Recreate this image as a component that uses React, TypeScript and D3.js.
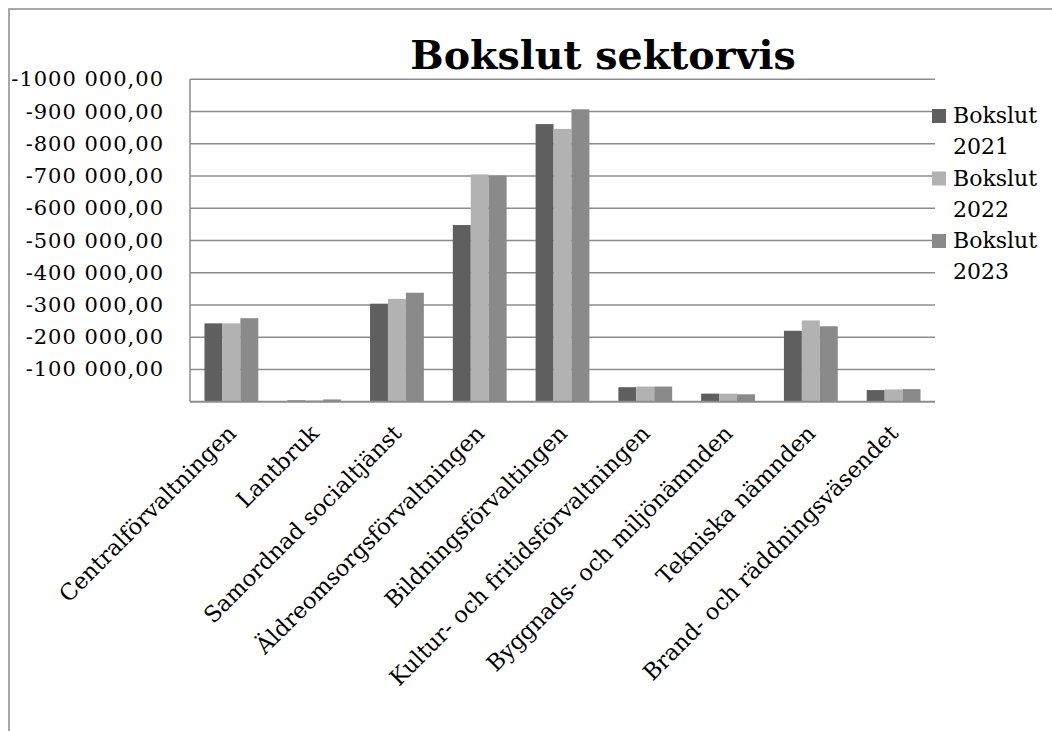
import React, { useRef, useEffect } from 'react';
import * as d3 from 'd3';

const categories = [
  'Centralförvaltningen',
  'Lantbruk',
  'Samordnad socialtjänst',
  'Äldreomsorgsförvaltningen',
  'Bildningsförvaltingen',
  'Kultur- och fritidsförvaltningen',
  'Byggnads- och miljönämnden',
  'Tekniska nämnden',
  'Brand- och räddningsväsendet',
];

const seriesNames = ['Bokslut 2021', 'Bokslut 2022', 'Bokslut 2023'];
const bokslut2021 = [-243000, -4000, -304000, -548000, -861000, -45000, -25000, -220000, -36000];
const bokslut2022 = [-243000, -4000, -319000, -705000, -846000, -47000, -25000, -252000, -38000];
const bokslut2023 = [-259000, -7000, -338000, -701000, -907000, -47000, -23000, -234000, -39000];

const tickValues = [-100000, -200000, -300000, -400000, -500000, -600000, -700000, -800000, -900000, -1000000];
const tickLabels = ['-100 000,00', '-200 000,00', '-300 000,00', '-400 000,00', '-500 000,00',
  '-600 000,00', '-700 000,00', '-800 000,00', '-900 000,00', '-1000 000,00'];

const colors = ['#5f5f5f', '#b2b2b2', '#8a8a8a'];
const font = '"DejaVu Serif", serif';

function App() {
  const ref = useRef<SVGSVGElement>(null);
  const width = 1052;
  const height = 731;
  const margin = { top: 79, right: 117, bottom: 330, left: 190 };

  useEffect(() => {
    const svg = d3.select(ref.current);
    svg.selectAll('*').remove();

    // outer frame (only top/left visible)
    svg.append('rect')
      .attr('x', 9).attr('y', 9).attr('width', 1100).attr('height', 800)
      .attr('fill', 'white').attr('stroke', '#8c8c8c').attr('stroke-width', 1.5);

    const series = [bokslut2021, bokslut2022, bokslut2023];

    const x = d3.scaleBand<string>()
      .domain(categories)
      .range([margin.left, width - margin.right])
      .paddingInner(0.35)
      .paddingOuter(0.175);

    const x1 = d3.scaleBand<number>()
      .domain([0, 1, 2])
      .range([0, x.bandwidth()]);

    const y = d3.scaleLinear()
      .domain([0, -1000000])
      .range([height - margin.bottom + 0.7, margin.top + 0.3]);

    // gridlines
    svg.append('g')
      .selectAll('line')
      .data(tickValues)
      .join('line')
      .attr('x1', margin.left).attr('x2', width - margin.right)
      .attr('y1', d => y(d)).attr('y2', d => y(d))
      .attr('stroke', '#8c8c8c').attr('stroke-width', 1.5);

    // y tick labels
    svg.append('g')
      .selectAll('text')
      .data(tickValues)
      .join('text')
      .attr('x', 164)
      .attr('y', d => y(d) + 7)
      .attr('text-anchor', 'end')
      .style('font-family', font)
      .style('font-size', '21px')
      .style('letter-spacing', '1px')
      .attr('fill', '#000')
      .text((d, i) => tickLabels[i]);

    // bars
    const groups = svg.append('g')
      .selectAll('g')
      .data(categories)
      .join('g')
      .attr('transform', d => `translate(${x(d)},0)`);

    groups.selectAll('rect')
      .data((d, i) => series.map((s, k) => ({ k, v: s[i] })))
      .join('rect')
      .attr('x', d => x1(d.k)!)
      .attr('width', x1.bandwidth())
      .attr('y', d => y(d.v))
      .attr('height', d => y(0) - y(d.v))
      .attr('fill', d => colors[d.k]);

    // axes lines
    svg.append('line')
      .attr('x1', margin.left).attr('x2', margin.left)
      .attr('y1', y(-1000000)).attr('y2', y(0))
      .attr('stroke', '#8c8c8c').attr('stroke-width', 1.5);
    svg.append('line')
      .attr('x1', margin.left).attr('x2', width - margin.right)
      .attr('y1', y(0)).attr('y2', y(0))
      .attr('stroke', '#8c8c8c').attr('stroke-width', 2);

    // category labels
    svg.append('g')
      .selectAll('text')
      .data(categories)
      .join('text')
      .attr('transform', d => `translate(${x(d)! + x.bandwidth() / 2 + 6},${y(0) + 33}) rotate(-45)`)
      .attr('text-anchor', 'end')
      .style('font-family', font)
      .style('font-size', '22.5px')
      .attr('fill', '#000')
      .text(d => d);

    // title
    svg.append('text')
      .attr('x', 603).attr('y', 69)
      .attr('text-anchor', 'middle')
      .style('font-family', font)
      .style('font-size', '39.5px')
      .style('font-weight', 'bold')
      .attr('fill', '#000')
      .text('Bokslut sektorvis');

    // legend
    const legend = svg.append('g')
      .selectAll('g')
      .data(seriesNames)
      .join('g')
      .attr('transform', (d, i) => `translate(932,${109 + i * 62.5})`);
    legend.append('rect')
      .attr('width', 14).attr('height', 14)
      .attr('fill', (d, i) => colors[i]);
    const lt = legend.append('text')
      .style('font-family', font)
      .style('font-size', '22px')
      .attr('fill', '#000');
    lt.append('tspan').attr('x', 21).attr('y', 14).text(d => d.split(' ')[0]);
    lt.append('tspan').attr('x', 21).attr('y', 45).text(d => d.split(' ')[1]);
  }, []);

  return (
    <svg ref={ref} width={width} height={height}
      style={{ position: 'absolute', left: 0, top: 0, background: 'white' }} />
  );
}

export default App;
